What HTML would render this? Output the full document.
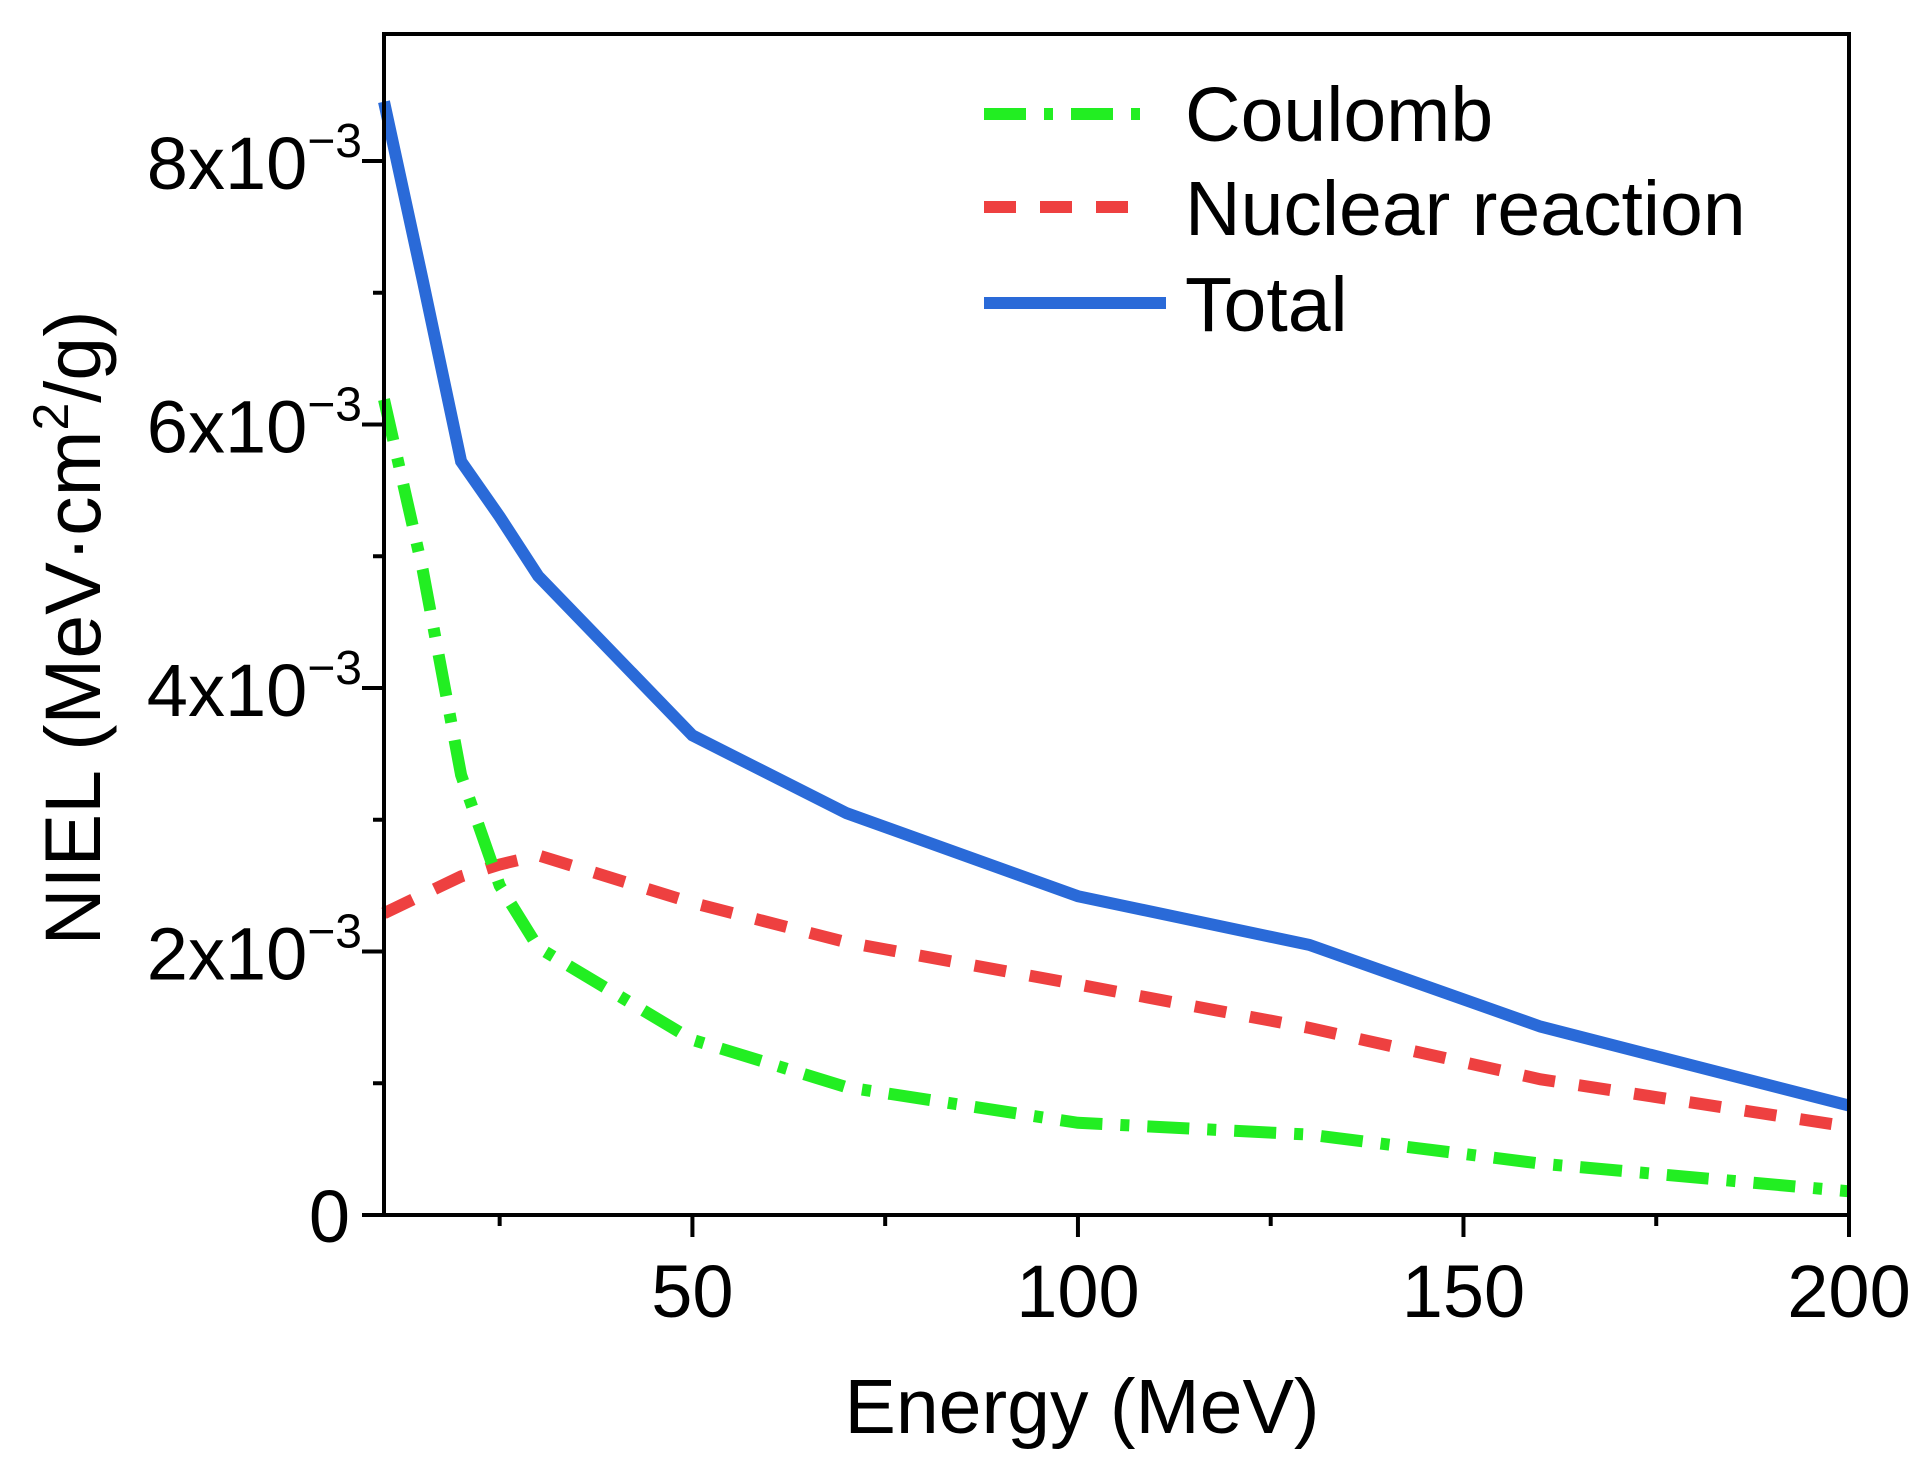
<!DOCTYPE html>
<html><head><meta charset="utf-8"><style>
html,body{margin:0;padding:0;background:#fff;}
svg{display:block;font-family:"Liberation Sans",sans-serif;}
</style></head><body>
<svg id="chart" width="1929" height="1472" viewBox="0 0 1929 1472" xmlns="http://www.w3.org/2000/svg">
<g id="plot"></g>
</svg>
<script>
const energies = [10, 15, 20, 25, 30, 50, 70, 100, 130, 160, 200];
const coulomb = [6.19, 4.9, 3.34, 2.5, 2.03, 1.33, 0.97, 0.70, 0.61, 0.39, 0.18];
const nuclear = [2.29, 2.43, 2.57, 2.66, 2.73, 2.37, 2.07, 1.75, 1.42, 1.03, 0.67];
const total = [8.45, 7.1, 5.72, 5.3, 4.85, 3.64, 3.05, 2.42, 2.05, 1.43, 0.83];
const xTicks = [50, 100, 150, 200];
const xMinor = [25, 75, 125, 175];
const yTicks = [2, 4, 6, 8];
const yMinor = [1, 3, 5, 7];

const NS = 'http://www.w3.org/2000/svg';
const L = 384, R = 1849, T = 34, B = 1215;
const xs = v => L + (v - 10) * (R - L) / 190;
const ys = v => B - v * (1215 - 161) / 8;
const g = document.getElementById('plot');
function mk(tag, attrs, parent) {
  const e = document.createElementNS(NS, tag);
  for (const k in attrs) e.setAttribute(k, attrs[k]);
  (parent || g).appendChild(e);
  return e;
}
function series(vals, color, dash, name) {
  const d = energies.map((e, i) => (i ? 'L' : 'M') + xs(e).toFixed(1) + ' ' + ys(vals[i]).toFixed(1)).join(' ');
  const p = mk('path', {d: d, fill: 'none', stroke: color, 'stroke-width': 12, 'stroke-dasharray': dash});
  
  
}
series(nuclear, '#ee4040', '32 24', 'nuclear-reaction-line');
series(coulomb, '#22ee22', '42 18 9 18', 'coulomb-line');
series(total, '#2a6ad8', '', 'total-line');

const fr = mk('rect', {x: L, y: T, width: R - L, height: B - T, fill: 'none', stroke: '#000', 'stroke-width': 4});



xTicks.forEach(v => {
  const t = mk('line', {x1: xs(v), x2: xs(v), y1: B, y2: B + 22, stroke: '#000', 'stroke-width': 4});
  
  
  const tx = mk('text', {x: xs(v), y: 1317, 'font-size': 74, 'text-anchor': 'middle'});
  tx.textContent = v;
  
  
});
xMinor.forEach(v => {
  const t = mk('line', {x1: xs(v), x2: xs(v), y1: B, y2: B + 11, stroke: '#000', 'stroke-width': 4});
  
  
});
const z = mk('text', {x: 350, y: 1242, 'font-size': 74, 'text-anchor': 'end'});
z.textContent = '0';


const zt = mk('line', {x1: L - 22, x2: L, y1: B, y2: B, stroke: '#000', 'stroke-width': 4});


yTicks.forEach(v => {
  const t = mk('line', {x1: L - 22, x2: L, y1: ys(v), y2: ys(v), stroke: '#000', 'stroke-width': 4});
  
  
  const tx = mk('text', {x: 362, y: ys(v) + 28, 'font-size': 74, 'text-anchor': 'end'});
  
  
  const a = mk('tspan', {}, tx); a.textContent = v + 'x10';
  const b = mk('tspan', {dy: -32, 'font-size': 48}, tx); b.textContent = '\u22123';
});
yMinor.forEach(v => {
  const t = mk('line', {x1: L - 11, x2: L, y1: ys(v), y2: ys(v), stroke: '#000', 'stroke-width': 4});
  
  
});
</script>
<svg style="position:absolute;left:0;top:0" width="1929" height="1472">
<text x="1082" y="1433" font-family="Liberation Sans" font-size="77" text-anchor="middle">Energy (MeV)</text>
<text transform="translate(100,628) rotate(-90)" font-family="Liberation Sans" font-size="79" text-anchor="middle">NIEL (MeV·cm<tspan font-size="50" dy="-32">2</tspan><tspan dy="32">/g)</tspan></text>
<g font-family="Liberation Sans" font-size="77">
<line x1="984" y1="114" x2="1144" y2="114" stroke="#22ee22" stroke-width="12" stroke-dasharray="42 18 9 18"/>
<text x="1185" y="141">Coulomb</text>
<line x1="984" y1="207" x2="1144" y2="207" stroke="#ee4040" stroke-width="12" stroke-dasharray="32 24"/>
<text x="1185" y="235">Nuclear reaction</text>
<line x1="984" y1="303" x2="1166" y2="303" stroke="#2a6ad8" stroke-width="12"/>
<text x="1185" y="331">Total</text>
</g>
</svg>
</body></html>
